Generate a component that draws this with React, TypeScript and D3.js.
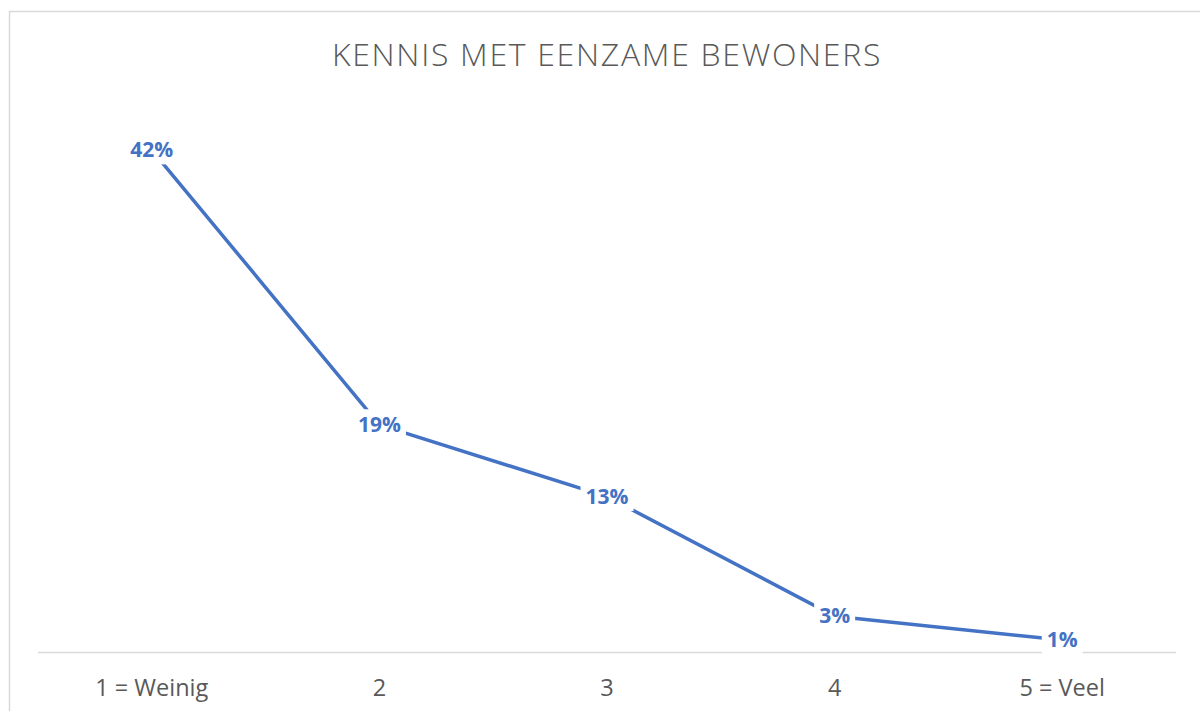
import React, { useEffect, useRef } from "react";
import * as d3 from "d3";

const categories = ["1 = Weinig", "2", "3", "4", "5 = Veel"];
const values = [0.42, 0.19, 0.13, 0.03, 0.01];
const labels = ["42%", "19%", "13%", "3%", "1%"];
const title = "KENNIS MET EENZAME BEWONERS";

const W = 1200;
const H = 711;

export default function App() {
  const ref = useRef<SVGSVGElement | null>(null);

  useEffect(() => {
    const svg = d3.select(ref.current);
    svg.selectAll("*").remove();

    const left = 38, right = 1176, bottom = 652;
    const x = d3.scaleBand<string>().domain(categories).range([left, right]);
    const y = d3.scaleLinear().domain([0, 0.45]).range([bottom, bottom - 0.45 * 1195.2]);

    svg.append("rect").attr("width", W).attr("height", H).attr("fill", "#fff");
    svg.append("rect")
      .attr("x", 9.5).attr("y", 11.5)
      .attr("width", W + 20).attr("height", H + 20)
      .attr("fill", "none").attr("stroke", "#d9d9d9").attr("stroke-width", 1.5);

    svg.append("text")
      .attr("x", 607).attr("y", 66)
      .attr("text-anchor", "middle")
      .attr("font-family", "'Open Sans', sans-serif")
      .attr("font-weight", 300)
      .attr("font-size", 32)
      .attr("letter-spacing", 1.7)
      .attr("fill", "#595959")
      .text(title);

    svg.append("line")
      .attr("x1", left).attr("x2", right)
      .attr("y1", bottom + 0.5).attr("y2", bottom + 0.5)
      .attr("stroke", "#d9d9d9").attr("stroke-width", 1.5);

    const cx = (c: string) => (x(c) as number) + x.bandwidth() / 2;

    svg.append("g").selectAll("text").data(categories).join("text")
      .attr("x", (d) => cx(d)).attr("y", 696)
      .attr("text-anchor", "middle")
      .attr("font-family", "'Open Sans', sans-serif")
      .attr("font-size", 23.5)
      .attr("fill", "#595959")
      .text((d) => d);

    const line = d3.line<number>()
      .x((_, i) => cx(categories[i]))
      .y((d) => y(d));

    svg.append("path")
      .datum(values)
      .attr("d", line)
      .attr("fill", "none")
      .attr("stroke", "#4472C4")
      .attr("stroke-width", 3.5)
      .attr("stroke-linejoin", "round");

    const lg = svg.append("g");
    values.forEach((v, i) => {
      const g = lg.append("g");
      const bg = g.append("rect").attr("fill", "#fff");
      const t = g.append("text")
        .attr("x", cx(categories[i])).attr("y", y(v))
        .attr("dy", "0.35em")
        .attr("text-anchor", "middle")
        .attr("font-family", "'Open Sans', sans-serif")
        .attr("font-weight", 700)
        .attr("font-size", 21)
        .attr("fill", "#4472C4")
        .text(labels[i]);
      const b = (t.node() as SVGTextElement).getBBox();
      bg.attr("x", b.x - 5).attr("y", b.y - 1)
        .attr("width", b.width + 10).attr("height", b.height + 2);
    });
  }, []);

  return (
    <svg
      ref={ref}
      width={W}
      height={H}
      style={{ position: "absolute", left: 0, top: 0, display: "block" }}
    />
  );
}
